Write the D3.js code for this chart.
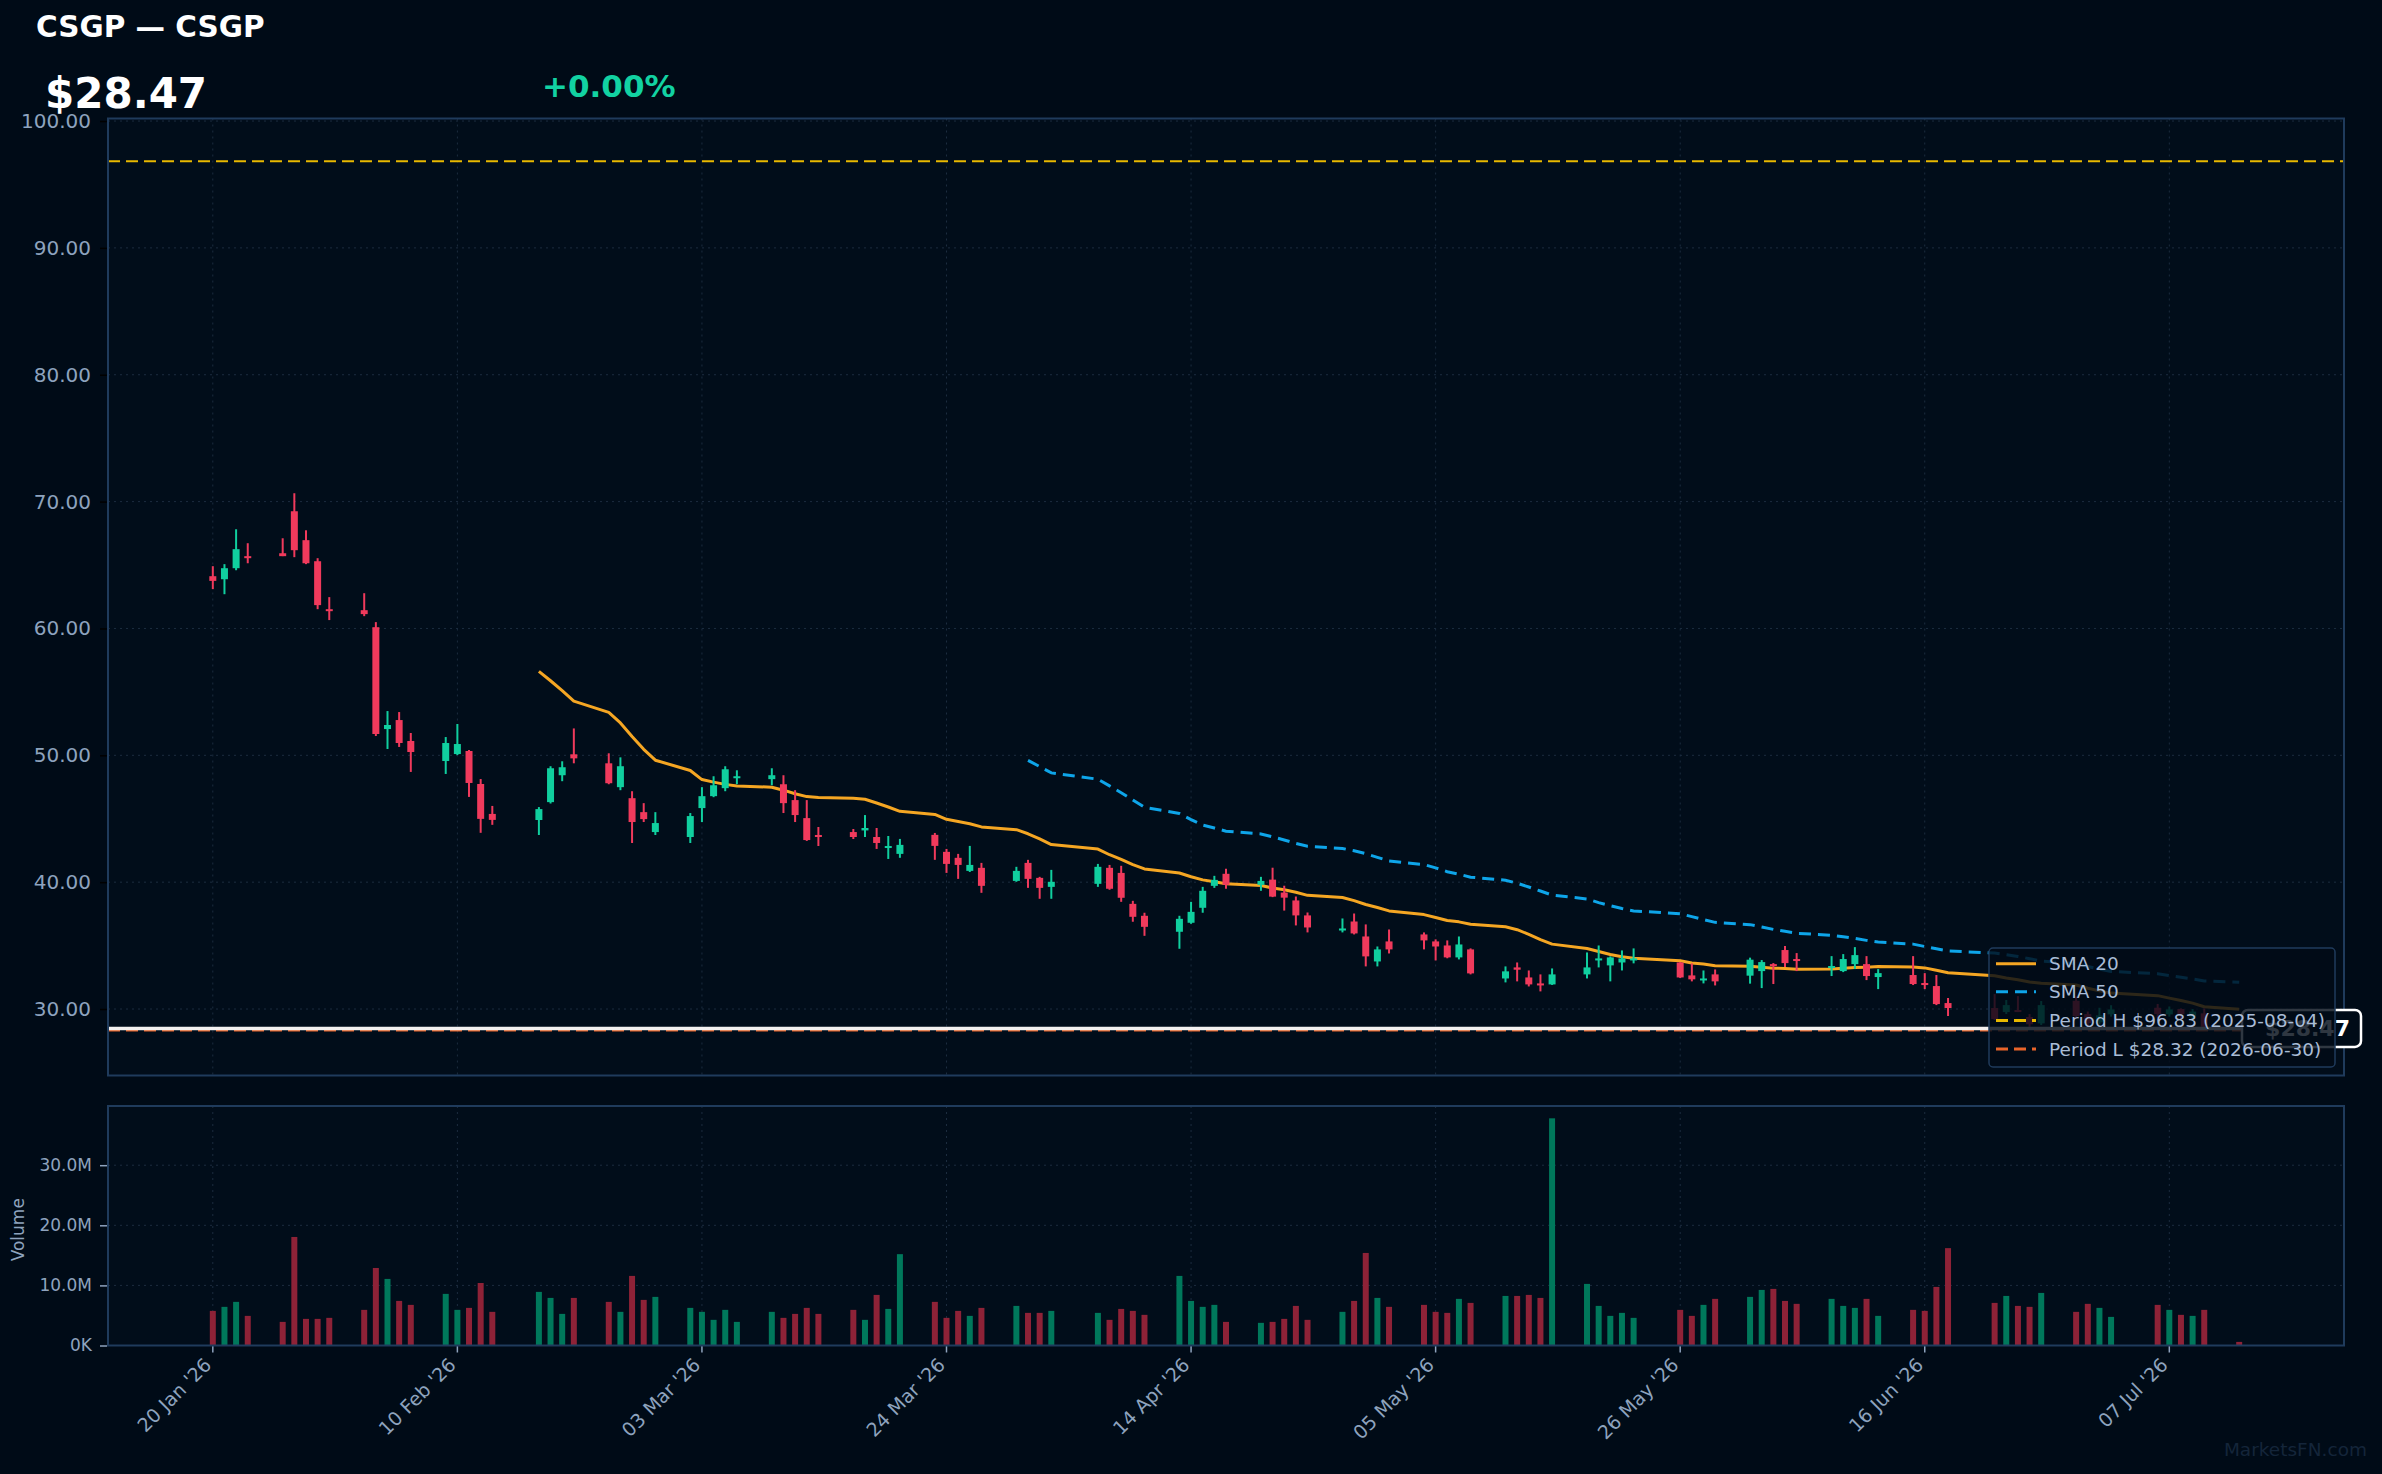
<!DOCTYPE html>
<html><head><meta charset="utf-8">
<script src="https://cdn.jsdelivr.net/npm/d3@7"></script>
<style>html,body{margin:0;padding:0;background:#000b17;}svg{display:block;}</style>
</head><body>
<svg id="c" width="2382" height="1474"></svg>
<script>
// ---------------- DATA ----------------
const symbol = "CSGP";
const lastPrice = 28.47;
const changeText = "+0.00%";
const periodHigh = 96.83, periodHighDate = "2025-08-04";
const periodLow = 28.32, periodLowDate = "2026-06-30";

const dates = [
"2026-01-20","2026-01-21","2026-01-22","2026-01-23",
"2026-01-26","2026-01-27","2026-01-28","2026-01-29","2026-01-30",
"2026-02-02","2026-02-03","2026-02-04","2026-02-05","2026-02-06",
"2026-02-09","2026-02-10","2026-02-11","2026-02-12","2026-02-13",
"2026-02-17","2026-02-18","2026-02-19","2026-02-20",
"2026-02-23","2026-02-24","2026-02-25","2026-02-26","2026-02-27",
"2026-03-02","2026-03-03","2026-03-04","2026-03-05","2026-03-06",
"2026-03-09","2026-03-10","2026-03-11","2026-03-12","2026-03-13",
"2026-03-16","2026-03-17","2026-03-18","2026-03-19","2026-03-20",
"2026-03-23","2026-03-24","2026-03-25","2026-03-26","2026-03-27",
"2026-03-30","2026-03-31","2026-04-01","2026-04-02",
"2026-04-06","2026-04-07","2026-04-08","2026-04-09","2026-04-10",
"2026-04-13","2026-04-14","2026-04-15","2026-04-16","2026-04-17",
"2026-04-20","2026-04-21","2026-04-22","2026-04-23","2026-04-24",
"2026-04-27","2026-04-28","2026-04-29","2026-04-30","2026-05-01",
"2026-05-04","2026-05-05","2026-05-06","2026-05-07","2026-05-08",
"2026-05-11","2026-05-12","2026-05-13","2026-05-14","2026-05-15",
"2026-05-18","2026-05-19","2026-05-20","2026-05-21","2026-05-22",
"2026-05-26","2026-05-27","2026-05-28","2026-05-29",
"2026-06-01","2026-06-02","2026-06-03","2026-06-04","2026-06-05",
"2026-06-08","2026-06-09","2026-06-10","2026-06-11","2026-06-12",
"2026-06-15","2026-06-16","2026-06-17","2026-06-18",
"2026-06-22","2026-06-23","2026-06-24","2026-06-25","2026-06-26",
"2026-06-29","2026-06-30","2026-07-01","2026-07-02",
"2026-07-06","2026-07-07","2026-07-08","2026-07-09","2026-07-10",
"2026-07-13"];

const opens = [
64.12,63.88,64.75,65.70,
65.93,69.24,66.96,65.30,61.52,
61.44,60.10,52.07,52.78,51.13,
49.55,50.10,50.34,47.74,45.38,
44.90,46.31,48.43,50.08,
49.37,47.49,46.62,45.52,43.95,
43.56,45.84,46.78,47.41,48.27,
48.12,47.72,46.47,45.05,43.72,
43.95,44.08,43.56,42.77,42.23,
43.73,42.39,41.92,40.89,41.13,
40.10,41.52,40.34,39.63,
39.87,41.13,40.73,38.29,37.35,
36.09,36.80,37.98,39.71,40.66,
39.79,40.20,39.18,38.56,37.38,
36.19,36.90,35.72,33.75,35.33,
35.88,35.33,35.01,34.07,34.70,
32.41,33.28,32.49,32.02,31.94,
32.73,33.83,33.44,33.67,33.83,
33.67,32.65,32.26,32.73,
32.63,32.99,33.54,34.65,33.94,
33.23,32.99,33.54,33.54,32.52,
32.68,32.05,31.81,30.47,
30.08,29.76,29.92,29.37,28.87,
30.65,29.60,28.95,29.58,
30.10,29.58,30.00,29.40,29.66,
28.60];

const highs = [
64.91,65.07,67.82,66.72,
67.11,70.66,67.74,65.54,62.47,
62.78,60.50,53.49,53.41,51.76,
51.44,52.47,50.42,48.13,46.01,
45.92,49.14,49.53,52.12,
50.16,49.84,47.17,46.23,45.52,
45.45,47.49,48.35,49.14,48.82,
48.98,48.43,47.25,46.47,44.35,
44.19,45.29,44.27,43.64,43.41,
43.88,42.62,42.23,42.86,41.52,
41.21,41.76,40.42,40.97,
41.44,41.36,41.29,38.53,37.59,
37.35,38.45,39.63,40.50,41.05,
40.42,41.14,39.72,38.87,37.61,
37.14,37.53,36.67,34.93,36.27,
36.04,35.49,35.41,35.72,34.78,
33.36,33.67,33.04,32.73,33.20,
34.46,35.01,34.15,34.62,34.78,
33.70,33.60,33.04,33.12,
34.05,33.86,33.62,34.96,34.41,
34.17,34.33,34.88,34.17,33.15,
34.17,32.83,32.68,30.87,
31.18,30.71,31.02,29.60,30.63,
31.00,29.80,30.10,30.30,
30.40,30.20,30.05,30.00,30.05,
28.70];

const lows = [
63.10,62.70,64.59,65.14,
65.70,65.62,65.07,61.52,60.66,
60.97,51.52,50.50,50.66,48.69,
48.53,50.02,46.72,43.89,44.52,
43.72,46.20,47.96,49.37,
47.72,47.25,43.09,44.74,43.72,
43.09,44.74,46.70,47.17,47.72,
47.64,45.45,44.74,43.25,42.85,
43.40,43.56,42.62,41.83,41.92,
41.76,40.73,40.26,40.80,39.16,
40.03,39.55,38.69,38.69,
39.63,39.40,38.45,36.88,35.77,
34.75,36.72,37.59,39.55,39.48,
39.32,38.82,37.76,36.59,36.04,
36.04,35.88,33.36,33.36,34.38,
34.70,33.83,34.00,33.91,32.73,
32.10,32.18,31.78,31.39,31.90,
32.41,33.28,32.18,33.04,33.60,
32.45,32.18,32.02,31.86,
32.00,31.65,31.97,33.31,32.99,
32.60,32.91,33.15,32.28,31.57,
31.89,31.57,30.31,29.45,
29.13,29.61,29.76,28.60,28.75,
29.30,28.32,28.80,29.40,
29.30,29.40,29.20,29.20,28.35,
28.40];

const closes = [
63.75,64.75,66.25,65.54,
65.70,66.17,65.14,61.84,61.44,
61.13,51.68,52.39,50.97,50.26,
50.97,50.89,47.82,44.99,44.91,
45.76,48.98,49.06,49.76,
47.80,49.14,44.74,44.97,44.66,
45.21,46.78,47.64,48.90,48.35,
48.43,46.23,45.29,43.32,43.56,
43.56,44.27,43.09,42.85,42.94,
42.86,41.44,41.36,41.36,39.71,
40.89,40.26,39.55,40.03,
41.21,39.48,38.77,37.27,36.48,
37.11,37.66,39.32,40.18,39.79,
40.10,38.86,38.78,37.38,36.43,
36.35,35.96,34.15,34.70,34.70,
35.41,34.93,34.07,35.09,32.81,
32.97,33.10,31.94,31.86,32.73,
33.28,33.99,34.07,33.99,33.99,
32.49,32.34,32.41,32.18,
33.89,33.70,33.46,33.62,33.86,
33.39,33.94,34.25,32.60,32.83,
31.97,31.89,30.39,30.08,
29.21,30.31,29.84,28.80,30.31,
29.45,28.90,29.50,29.97,
29.60,29.97,29.60,29.80,28.60,
28.47];

// volume in millions
const volumes = [
5.76,6.43,7.26,4.93,
3.93,18.06,4.43,4.43,4.60,
5.93,12.90,11.08,7.42,6.76,
8.59,5.93,6.26,10.40,5.60,
8.92,7.92,5.26,7.92,
7.26,5.60,11.58,7.59,8.09,
6.26,5.60,4.27,5.93,3.93,
5.60,4.60,5.26,6.26,5.26,
5.93,4.27,8.42,6.09,15.20,
7.26,4.60,5.76,4.93,6.26,
6.59,5.43,5.43,5.76,
5.43,4.27,6.09,5.76,5.10,
11.58,7.42,6.43,6.76,3.93,
3.77,3.93,4.43,6.59,4.27,
5.60,7.42,15.40,7.92,6.43,
6.76,5.60,5.43,7.76,7.09,
8.25,8.25,8.42,7.92,37.80,
10.25,6.59,4.93,5.43,4.60,
5.93,4.93,6.76,7.76,
8.09,9.25,9.42,7.42,6.93,
7.76,6.59,6.26,7.76,4.93,
5.93,5.76,9.75,16.20,
7.09,8.25,6.59,6.43,8.75,
5.60,6.93,6.26,4.76,
6.76,5.93,5.10,4.93,5.93,
0.60];

const priceTicks = [30,40,50,60,70,80,90,100];
const volumeTicks = [0,10,20,30];
const xTickDates = ["2026-01-20","2026-02-10","2026-03-03","2026-03-24","2026-04-14","2026-05-05","2026-05-26","2026-06-16","2026-07-07"];
const xDomain = ["2026-01-11","2026-07-22"];
const priceDomain = [24.76, 100.2];
const volumeDomain = [0, 39.85];

// ---------------- LAYOUT ----------------
const PL=108, PR=2344, PT=118.5, PB=1075.5, VT=1106, VB=1345.5;
const C = {
  bg:"#000b17", plot:"#010d1a", border:"#1f3b5c", grid:"#1c2c3f", tick:"#8ea3be",
  up:"#10cf9f", down:"#f03a5c", vup:"#00785b", vdown:"#8e2237",
  sma20:"#f5a623", sma50:"#0ea5e9", ph:"#e8b800", pl:"#e8642a", legendText:"#a9bcd6"
};
const FONT = "DejaVu Sans, Verdana, sans-serif";

const parse = d3.utcParse("%Y-%m-%d");
const data = dates.map((d,i)=>({date:parse(d),o:opens[i],h:highs[i],l:lows[i],c:closes[i],v:volumes[i]}));

const x = d3.scaleUtc().domain(xDomain.map(parse)).range([PL,PR]);
const y = d3.scaleLinear().domain(priceDomain).range([PB,PT]);
const yv = d3.scaleLinear().domain(volumeDomain).range([VB,VT]);

function sma(n){ return closes.map((c,i)=> i<n-1 ? null : d3.mean(closes.slice(i-n+1,i+1))); }
const sma20 = sma(20), sma50 = sma(50);

const svg = d3.select("#c");
svg.append("rect").attr("width",2382).attr("height",1474).attr("fill",C.bg);

// panels
svg.append("rect").attr("x",PL).attr("y",PT).attr("width",PR-PL).attr("height",PB-PT).attr("fill",C.plot);
svg.append("rect").attr("x",PL).attr("y",VT).attr("width",PR-PL).attr("height",VB-VT).attr("fill",C.plot);

const defs = svg.append("defs");
defs.append("clipPath").attr("id","pclip").append("rect").attr("x",PL).attr("y",PT).attr("width",PR-PL).attr("height",PB-PT);
defs.append("clipPath").attr("id","vclip").append("rect").attr("x",PL).attr("y",VT).attr("width",PR-PL).attr("height",VB-VT);

// grids
const g = svg.append("g").attr("stroke",C.grid).attr("stroke-width",1).attr("stroke-dasharray","2,4");
priceTicks.forEach(t=>g.append("line").attr("x1",PL).attr("x2",PR).attr("y1",y(t)).attr("y2",y(t)));
volumeTicks.slice(1).forEach(t=>g.append("line").attr("x1",PL).attr("x2",PR).attr("y1",yv(t)).attr("y2",yv(t)));
xTickDates.forEach(d=>{
  const xx = x(parse(d));
  g.append("line").attr("x1",xx).attr("x2",xx).attr("y1",PT).attr("y2",PB);
  g.append("line").attr("x1",xx).attr("x2",xx).attr("y1",VT).attr("y2",VB);
});

// price axis
const yAxis = d3.axisLeft(y).tickValues(priceTicks).tickFormat(d3.format(".2f")).tickSize(7).tickPadding(9);
const ya = svg.append("g").attr("transform",`translate(${PL-1},0)`).call(yAxis);
ya.select(".domain").remove();
ya.selectAll("line").attr("stroke","#000000").attr("stroke-width",1.5);
ya.selectAll("text").attr("fill",C.tick).attr("font-family",FONT).attr("font-size",20);

// volume axis
const vAxis = d3.axisLeft(yv).tickValues(volumeTicks).tickFormat(d=> d===0 ? "0K" : d3.format(".1f")(d)+"M").tickSize(7).tickPadding(8);
const va = svg.append("g").attr("transform",`translate(${PL-1},0)`).call(vAxis);
va.select(".domain").remove();
va.selectAll("line").attr("stroke",C.tick).attr("stroke-width",1.5);
va.selectAll("text").attr("fill",C.tick).attr("font-family",FONT).attr("font-size",17);
svg.append("text").attr("transform",`translate(24,${(VT+VB)/2+4}) rotate(-90)`).attr("text-anchor","middle")
  .attr("fill",C.tick).attr("font-family",FONT).attr("font-size",17).text("Volume");

// x axis
const fmt = d3.utcFormat("%d %b '%y");
const xa = svg.append("g");
xTickDates.forEach(d=>{
  const xx = x(parse(d));
  xa.append("line").attr("x1",xx).attr("x2",xx).attr("y1",VB).attr("y2",VB+7).attr("stroke",C.tick).attr("stroke-width",1.5);
  xa.append("text").attr("transform",`translate(${xx-5},${VB+16}) rotate(-45)`).attr("text-anchor","end").attr("dy","0.35em")
    .attr("fill",C.tick).attr("font-family",FONT).attr("font-size",19).text(fmt(parse(d)));
});

// price plot content
const pg = svg.append("g").attr("clip-path","url(#pclip)");
pg.append("line").attr("x1",PL).attr("x2",PR).attr("y1",y(periodHigh)).attr("y2",y(periodHigh))
  .attr("stroke",C.ph).attr("stroke-width",2.2).attr("stroke-dasharray","12,6");
pg.append("line").attr("x1",PL).attr("x2",PR).attr("y1",y(periodLow)).attr("y2",y(periodLow))
  .attr("stroke",C.pl).attr("stroke-width",2.2).attr("stroke-dasharray","12,6");

const line = arr => d3.line().defined((d,i)=>arr[i]!=null).x(d=>x(d.date)).y((d,i)=>y(arr[i]))(data);
pg.append("path").attr("d",line(sma20)).attr("fill","none").attr("stroke",C.sma20).attr("stroke-width",3).attr("stroke-linejoin","round");
pg.append("path").attr("d",line(sma50)).attr("fill","none").attr("stroke",C.sma50).attr("stroke-width",3).attr("stroke-dasharray","12,7");

const bw = 7;
const cg = pg.append("g");
data.forEach(d=>{
  const col = d.c>=d.o ? C.up : C.down;
  const xx = x(d.date);
  cg.append("line").attr("x1",xx).attr("x2",xx).attr("y1",y(d.h)).attr("y2",y(d.l)).attr("stroke",col).attr("stroke-width",2);
  const top = y(Math.max(d.o,d.c)), bot = y(Math.min(d.o,d.c));
  cg.append("rect").attr("x",xx-bw/2).attr("y",top).attr("width",bw).attr("height",Math.max(2,bot-top)).attr("fill",col);
});

// last price line
pg.append("line").attr("x1",PL).attr("x2",PR).attr("y1",y(lastPrice)).attr("y2",y(lastPrice))
  .attr("stroke","#f4f1f1").attr("stroke-width",3.5);

// volume bars
const vg = svg.append("g").attr("clip-path","url(#vclip)");
data.forEach(d=>{
  const xx = x(d.date);
  vg.append("rect").attr("x",xx-3).attr("y",yv(d.v)).attr("width",6).attr("height",yv(0)-yv(d.v))
    .attr("fill", d.c>=d.o ? C.vup : C.vdown);
});

// panel borders
svg.append("rect").attr("x",PL).attr("y",PT).attr("width",PR-PL).attr("height",PB-PT).attr("fill","none").attr("stroke",C.border).attr("stroke-width",2);
svg.append("rect").attr("x",PL).attr("y",VT).attr("width",PR-PL).attr("height",VB-VT).attr("fill","none").attr("stroke",C.border).attr("stroke-width",2);

// last price label
const ly = y(lastPrice);
svg.append("rect").attr("x",2242).attr("y",ly-18.5).attr("width",119).attr("height",37).attr("rx",6)
  .attr("fill",C.bg).attr("stroke","#ffffff").attr("stroke-width",2.5);
svg.append("text").attr("x",2350).attr("y",ly).attr("dy","0.36em").attr("text-anchor","end")
  .attr("fill","#ffffff").attr("font-family",FONT).attr("font-weight","bold").attr("font-size",22).text("$"+lastPrice.toFixed(2));

// legend
const lg = svg.append("g");
lg.append("rect").attr("x",1989).attr("y",948).attr("width",346).attr("height",119).attr("rx",4)
  .attr("fill","rgba(1,11,23,0.82)").attr("stroke",C.border).attr("stroke-width",1.5);
const items = [
  {label:"SMA 20", color:C.sma20, dash:null},
  {label:"SMA 50", color:C.sma50, dash:"12,7"},
  {label:`Period H $${periodHigh.toFixed(2)} (${periodHighDate})`, color:C.ph, dash:"12,6"},
  {label:`Period L $${periodLow.toFixed(2)} (${periodLowDate})`, color:C.pl, dash:"12,6"}
];
const rowY = [963.7, 991.7, 1020.5, 1049];
items.forEach((it,i)=>{
  lg.append("line").attr("x1",1996).attr("x2",2036).attr("y1",rowY[i]).attr("y2",rowY[i])
    .attr("stroke",it.color).attr("stroke-width",3).attr("stroke-dasharray",it.dash);
  lg.append("text").attr("x",2049).attr("y",rowY[i]).attr("dy","0.36em").attr("fill",C.legendText)
    .attr("font-family",FONT).attr("font-size",18.5).text(it.label);
});

// header
svg.append("text").attr("x",36).attr("y",37).attr("fill","#ffffff").attr("font-family",FONT).attr("font-weight","bold")
  .attr("font-size",29.5).text(`${symbol} — ${symbol}`);
svg.append("text").attr("x",45).attr("y",108).attr("fill","#ffffff").attr("font-family",FONT).attr("font-weight","bold")
  .attr("font-size",42).text("$"+lastPrice.toFixed(2));
svg.append("text").attr("x",542).attr("y",97).attr("fill","#12d2a2").attr("font-family",FONT).attr("font-weight","bold")
  .attr("font-size",31).text(changeText);

// watermark
svg.append("text").attr("x",2367).attr("y",1456).attr("text-anchor","end").attr("fill","#14253a")
  .attr("font-family",FONT).attr("font-size",18.5).text("MarketsFN.com");
</script>
</body></html>
